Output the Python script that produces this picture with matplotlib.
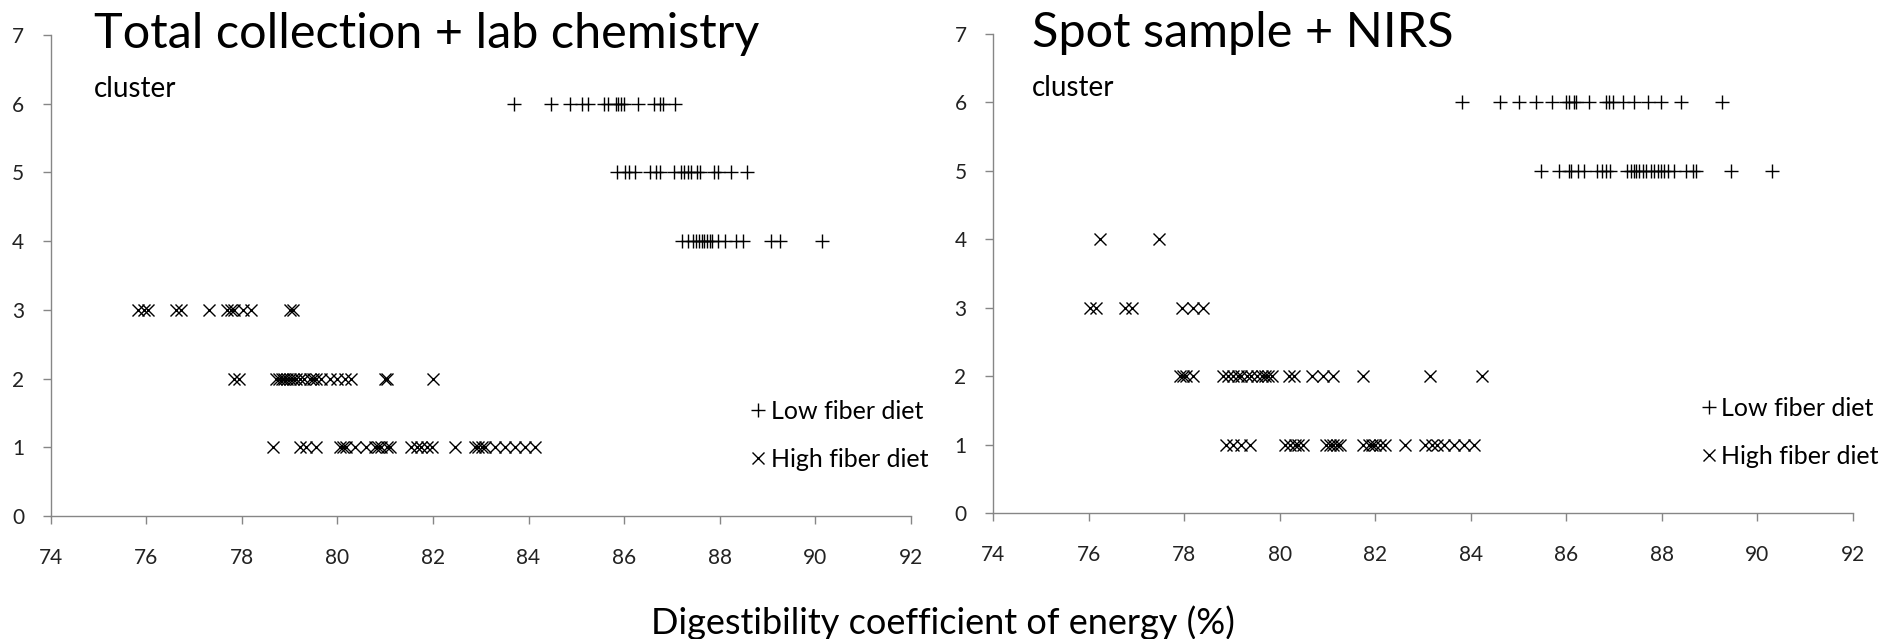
import matplotlib
matplotlib.use("Agg")
import matplotlib.pyplot as plt
from matplotlib.lines import Line2D

plt.rcParams['font.family'] = ['Lato', 'DejaVu Sans']

# ---- data: digestibility coefficient of energy (%) per cluster ----
# Left panel: Total collection + lab chemistry
left_low = {
    6: [83.69, 84.46, 84.87, 85.11, 85.25, 85.58, 85.67, 85.82, 85.88, 85.93,
        86.00, 86.29, 86.63, 86.74, 86.82, 87.07],
    5: [85.86, 86.02, 86.11, 86.22, 86.53, 86.66, 86.74, 87.05, 87.19, 87.25,
        87.33, 87.40, 87.52, 87.58, 87.87, 87.96, 88.24, 88.57],
    4: [87.22, 87.33, 87.43, 87.51, 87.56, 87.63, 87.68, 87.73, 87.79, 87.84,
        87.96, 88.10, 88.34, 88.48, 89.08, 89.27, 90.13],
}
left_high = {
    3: [75.84, 75.95, 76.03, 76.62, 76.72, 77.32, 77.70, 77.77, 77.84, 78.02,
        78.19, 79.00, 79.07],
    2: [77.84, 77.95, 78.72, 78.79, 78.84, 78.89, 78.95, 79.00, 79.07, 79.14,
        79.21, 79.31, 79.42, 79.49, 79.56, 79.66, 79.84, 80.00, 80.15, 80.29,
        80.99, 81.03, 82.01],
    1: [78.65, 79.21, 79.35, 79.56, 80.05, 80.12, 80.19, 80.36, 80.61, 80.78,
        80.85, 80.92, 81.03, 81.10, 81.55, 81.66, 81.76, 81.87, 81.97, 82.46,
        82.88, 82.95, 83.02, 83.09, 83.30, 83.51, 83.72, 83.93, 84.14],
}
# Right panel: Spot sample + NIRS
right_low = {
    6: [83.82, 84.62, 85.01, 85.36, 85.71, 85.99, 86.06, 86.16, 86.20, 86.48,
        86.83, 86.90, 86.97, 87.18, 87.42, 87.71, 87.99, 88.40, 89.26],
    5: [85.48, 85.85, 86.06, 86.09, 86.24, 86.37, 86.65, 86.75, 86.82, 86.91,
        87.28, 87.35, 87.41, 87.45, 87.52, 87.60, 87.66, 87.77, 87.84, 87.91,
        87.98, 88.05, 88.12, 88.26, 88.50, 88.65, 88.71, 89.44, 90.30],
}
right_high = {
    4: [76.23, 77.48],
    3: [76.02, 76.16, 76.76, 76.90, 77.95, 78.19, 78.39],
    2: [77.91, 77.98, 78.04, 78.18, 78.82, 78.92, 79.03, 79.13, 79.20, 79.31,
        79.41, 79.52, 79.62, 79.69, 79.76, 79.83, 80.19, 80.29, 80.67, 80.91,
        81.12, 81.75, 83.14, 84.24],
    1: [78.88, 79.02, 79.19, 79.38, 80.11, 80.21, 80.32, 80.39, 80.49, 80.98,
        81.05, 81.12, 81.19, 81.26, 81.75, 81.86, 81.93, 82.00, 82.10, 82.21,
        82.63, 83.05, 83.19, 83.29, 83.43, 83.64, 83.85, 84.06],
}

titles = ["Total collection + lab chemistry", "Spot sample + NIRS"]
series_labels = ["Low fiber diet", "High fiber diet"]
x_ticks = [74, 76, 78, 80, 82, 84, 86, 88, 90, 92]
y_ticks = [0, 1, 2, 3, 4, 5, 6, 7]
x_label = "Digestibility coefficient of energy (%)"
y_label = "cluster"

W, H = 1885, 639
fig = plt.figure(figsize=(W / 100, H / 100), dpi=100)

# axes rectangles in pixels: (left, top, right, bottom)
rects = [(50.5, 35, 911, 516), (993, 34, 1853, 513)]
title_x = [0.0505, 0.045]
legend_x = [0.811, 0.8205]

GRAY = "#868686"
MS = 10
LW = 1.0

panels = [(left_low, left_high), (right_low, right_high)]
for i, (low, high) in enumerate(panels):
    l, t, r, b = rects[i]
    ax = fig.add_axes([l / W, 1 - b / H, (r - l) / W, (b - t) / H])
    for cl, xs in low.items():
        ax.plot(xs, [cl] * len(xs), linestyle='none', marker='+', ms=MS,
                mew=LW, color='black', clip_on=False)
    for cl, xs in high.items():
        ax.plot(xs, [cl] * len(xs), linestyle='none', marker='x', ms=MS * 0.9,
                mew=LW, color='black', clip_on=False)
    ax.set_xlim(74, 92)
    ax.set_ylim(0, 7)
    ax.set_xticks(x_ticks)
    ax.set_yticks(y_ticks)
    for s in ['top', 'right']:
        ax.spines[s].set_visible(False)
    for s in ['left', 'bottom']:
        ax.spines[s].set_color(GRAY)
        ax.spines[s].set_linewidth(1.0)
    ax.tick_params(axis='both', direction='out', length=6, width=1.0,
                   color=GRAY, labelsize=15, labelcolor='#222222')
    ax.tick_params(axis='x', pad=17)
    ax.tick_params(axis='y', pad=13)
    ax.text(title_x[i], 0.972, titles[i], transform=ax.transAxes,
            fontsize=35, va='baseline', ha='left', color='black')
    ax.text(title_x[i], 0.888, y_label, transform=ax.transAxes,
            fontsize=20, va='center', ha='left', color='black')
    handles = [
        Line2D([], [], linestyle='none', marker='+', ms=MS, mew=LW, color='black'),
        Line2D([], [], linestyle='none', marker='x', ms=MS * 0.9, mew=LW, color='black'),
    ]
    ax.legend(handles, series_labels, loc='center left',
              bbox_to_anchor=(legend_x[i], 0.168), frameon=False,
              fontsize=18, handlelength=0.8, handletextpad=0.1,
              labelspacing=1.0, borderpad=0, borderaxespad=0)

fig.text(0.5, 1 - 623 / H, x_label, ha='center', va='center', fontsize=26)

fig.savefig("out.png", dpi=100)
